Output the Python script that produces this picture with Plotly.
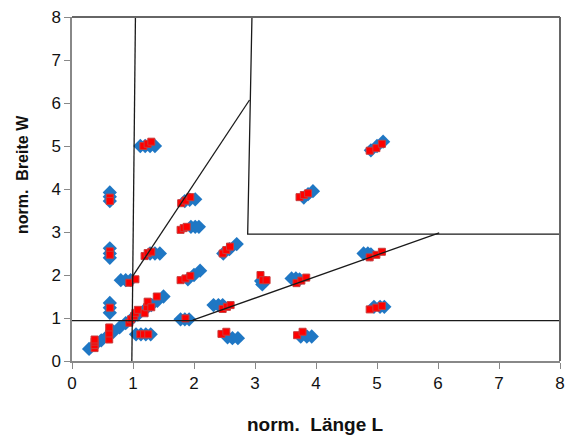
import plotly.graph_objects as go

# Series 1 (blue diamonds)
blue_x = [0.62, 0.62, 0.62, 0.62, 0.62, 0.62, 0.62, 0.62, 0.62,
          1.12, 1.20, 1.28, 1.36,
          1.28, 1.36, 1.44,
          0.80, 0.88, 0.96,
          0.28, 0.38, 0.48, 0.58, 0.68, 0.78, 0.88, 0.98, 1.08, 1.20, 1.30, 1.40, 1.50,
          1.05, 1.13, 1.21, 1.29,
          1.85, 1.93, 2.02,
          1.95, 2.02, 2.08,
          1.90, 2.00, 2.10,
          2.48, 2.58, 2.70,
          3.10, 3.12,
          1.78, 1.85, 1.92,
          2.32, 2.40, 2.47,
          2.55, 2.63, 2.72,
          3.80, 3.87, 3.95,
          3.60, 3.67, 3.73,
          3.75, 3.85, 3.93,
          4.78, 4.85, 4.90,
          4.95, 5.05, 5.12,
          4.90, 5.00, 5.10]
blue_y = [3.92, 3.82, 3.72, 2.62, 2.50, 2.40, 1.35, 1.24, 1.12,
          5.00, 5.00, 5.00, 5.00,
          2.50, 2.50, 2.50,
          1.88, 1.88, 1.88,
          0.28, 0.38, 0.48, 0.58, 0.68, 0.78, 0.88, 0.98, 1.08, 1.20, 1.30, 1.40, 1.50,
          0.62, 0.62, 0.62, 0.62,
          3.72, 3.75, 3.76,
          3.12, 3.12, 3.12,
          1.90, 2.00, 2.10,
          2.50, 2.60, 2.72,
          1.86, 1.78,
          0.97, 0.97, 0.97,
          1.30, 1.30, 1.30,
          0.55, 0.53, 0.53,
          3.80, 3.88, 3.95,
          1.92, 1.92, 1.90,
          0.57, 0.57, 0.57,
          2.50, 2.50, 2.48,
          1.26, 1.26, 1.26,
          4.90, 5.00, 5.10]

# Series 2 (red squares)
red_x = [0.62, 0.62, 0.62, 0.62, 0.62,
         1.17, 1.24, 1.30,
         1.19, 1.24, 1.30,
         0.94, 1.04,
         0.37, 0.37, 0.37, 0.37,
         0.61, 0.61, 0.61,
         0.94, 0.97, 1.02, 1.04, 1.08, 1.19, 1.23, 1.24, 1.30, 1.39,
         1.12, 1.18, 1.25,
         1.79, 1.86, 1.94,
         1.78, 1.83, 1.88,
         1.78, 1.86, 1.94,
         2.47, 2.53, 2.59,
         3.09, 3.13, 3.19,
         1.86,
         2.47, 2.54, 2.60,
         2.45, 2.53,
         3.73, 3.80, 3.87,
         3.68, 3.76, 3.84,
         3.69, 3.78,
         4.88, 4.99, 5.08,
         4.88, 4.99, 5.08,
         4.88, 4.99, 5.08]
red_y = [3.80, 3.72, 2.55, 2.47, 1.24,
         5.00, 5.05, 5.10,
         2.44, 2.51, 2.54,
         1.82, 1.90,
         0.30, 0.37, 0.45, 0.50,
         0.50, 0.64, 0.78,
         0.89, 0.97, 1.05, 1.12, 1.19, 1.11, 1.25, 1.38, 1.25, 1.50,
         0.62, 0.62, 0.62,
         3.67, 3.73, 3.81,
         3.05, 3.09, 3.12,
         1.88, 1.92, 1.98,
         2.50, 2.58, 2.66,
         2.00, 1.88, 1.88,
         0.99,
         1.21, 1.26, 1.30,
         0.63, 0.68,
         3.81, 3.86, 3.90,
         1.81, 1.87, 1.94,
         0.60, 0.68,
         2.41, 2.47, 2.54,
         1.20, 1.24, 1.28,
         4.89, 4.95, 5.05]

# Boundary lines (segments)
seg_x = [[0.98, 1.04], [-0.03, 8.0], [0.99, 2.91], [2.95, 2.88, 8.0], [1.98, 6.02]]
seg_y = [[-0.15, 8.0], [0.94, 0.94], [1.96, 6.07], [8.0, 2.95, 2.95], [0.95, 2.98]]

x_ticks = [0, 1, 2, 3, 4, 5, 6, 7, 8]
y_ticks = [0, 1, 2, 3, 4, 5, 6, 7, 8]
x_title = "norm.\u00a0 Länge L"
y_title = "norm.\u00a0 Breite W"

fig = go.Figure()
fig.add_trace(go.Scatter(x=blue_x, y=blue_y, mode="markers",
                         marker=dict(symbol="diamond", size=11, color="#1f77c4",
                                     line=dict(width=0)),
                         showlegend=False, cliponaxis=False))
fig.add_trace(go.Scatter(x=red_x, y=red_y, mode="markers",
                         marker=dict(symbol="square", size=7, color="#ff0000",
                                     line=dict(width=1, color="#c83c3c")),
                         showlegend=False, cliponaxis=False))
for sx, sy in zip(seg_x, seg_y):
    fig.add_trace(go.Scatter(x=sx, y=sy, mode="lines",
                             line=dict(color="#1a1a1a", width=1.3),
                             showlegend=False, hoverinfo="skip", cliponaxis=False))

font_family = "Liberation Sans, Arial, sans-serif"
fig.update_layout(
    width=566, height=437,
    margin=dict(l=72, r=6, t=17, b=76),
    paper_bgcolor="white", plot_bgcolor="white",
    font=dict(family=font_family, size=16, color="#111"),
    xaxis=dict(range=[0, 8], tickvals=x_ticks, showgrid=False, zeroline=False,
               showline=True, linecolor="#888", linewidth=1.5, automargin=False,
               ticks="outside", ticklen=6, tickcolor="#888", tickwidth=1,
               tickfont=dict(size=17)),
    yaxis=dict(range=[0, 8], tickvals=y_ticks, showgrid=False, zeroline=False,
               showline=True, linecolor="#888", linewidth=1.5, automargin=False,
               ticks="outside", ticklen=6, tickcolor="#888", tickwidth=1,
               tickfont=dict(size=17)),
    annotations=[
        dict(text="<b>" + x_title + "</b>", xref="paper", yref="paper",
             x=(315 - 72) / 488, y=(361 - 425) / 344, showarrow=False,
             xanchor="center", yanchor="middle", font=dict(size=19)),
        dict(text="<b>" + y_title + "</b>", xref="paper", yref="paper",
             x=(22 - 72) / 488, y=(361 - 175) / 344, showarrow=False, textangle=-90,
             xanchor="center", yanchor="middle", font=dict(size=16)),
    ],
    shapes=[
        dict(type="line", xref="paper", yref="paper", x0=0, x1=1, y0=1, y1=1,
             line=dict(color="#666", width=2)),
        dict(type="line", xref="paper", yref="paper", x0=1, x1=1, y0=0, y1=1,
             line=dict(color="#666", width=2)),
    ],
)

fig.write_html("out.html")
